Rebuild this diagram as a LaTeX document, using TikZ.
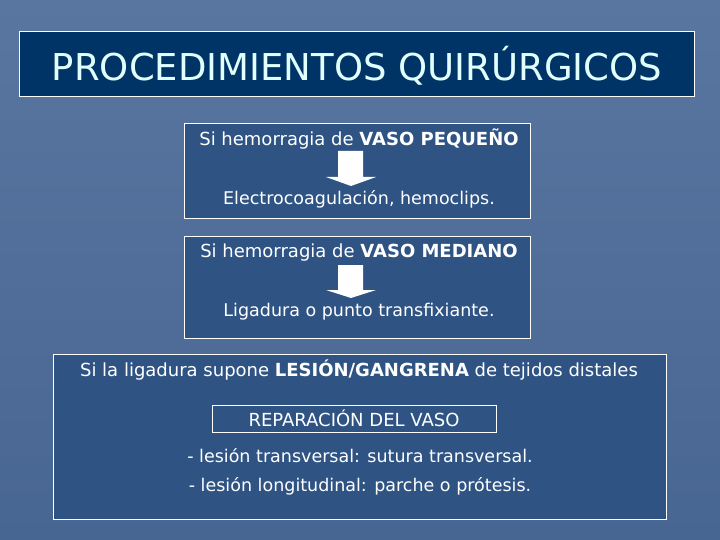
\documentclass[tikz,border=0pt]{standalone}
\usepackage{fontspec}
\setmainfont{DejaVu Sans}
\definecolor{bgtop}{RGB}{88,118,160}
\definecolor{bgbot}{RGB}{72,102,146}
\definecolor{titlefill}{RGB}{0,51,102}
\definecolor{titletext}{RGB}{225,255,255}
\definecolor{boxfill}{RGB}{47,84,132}
\tikzset{
  panel/.style={draw=white, line width=0.7pt, fill=boxfill},
  txt/.style={text=white, inner sep=0pt, anchor=center, font=\fontsize{17.5}{20}\selectfont},
  txtb/.style={txt, font=\fontsize{18}{21}\selectfont},
  blockarrow/.style={fill=white, draw=none},
}
\begin{document}
\begin{tikzpicture}[x=1pt,y=-1pt]
\useasboundingbox (0,0) rectangle (720,540);
\shade[top color=bgtop, bottom color=bgbot] (0,0) rectangle (720,540);
% title
\draw[panel, fill=titlefill] (19,31) rectangle (694,96);
\node[txt, text=titletext, font=\fontsize{37}{40}\selectfont] (title) at (357,66) {PROCEDIMIENTOS QUIRÚRGICOS};
% box 1
\draw[panel] (184,123) rectangle (530,218);
\node[txtb] (p1) at (359,139) {Si hemorragia de \textbf{VASO PEQUEÑO}};
\node[txt] (r1) at (359,199) {Electrocoagulación, hemoclips.};
\fill[blockarrow] (338,151) -- (363,151) -- (363,177) -- (376,177) -- (351,186) -- (326,177) -- (338,177) -- cycle;
% box 2
\draw[panel] (184,236) rectangle (530,338);
\node[txtb] (p2) at (359,253) {Si hemorragia de \textbf{VASO MEDIANO}};
\node[txt] (r2) at (359,312) {Ligadura o punto transfixiante.};
\fill[blockarrow] (338,265) -- (363,265) -- (363,290) -- (376,290) -- (351,298) -- (326,290) -- (338,290) -- cycle;
% box 3
\draw[panel] (53,354) rectangle (666,519);
\node[txtb] (l3) at (359,370) {Si la ligadura supone \textbf{LESIÓN/GANGRENA} de tejidos distales};
\draw[white, line width=0.7pt] (212,405) rectangle (496,432);
\node[txtb] (rep) at (354,418) {REPARACIÓN DEL VASO};
\node[txt] (t1) at (360,456) {- lesión transversal: sutura transversal.};
\node[txt] (t2) at (360,486) {- lesión longitudinal: parche o prótesis.};
\end{tikzpicture}
\end{document}
